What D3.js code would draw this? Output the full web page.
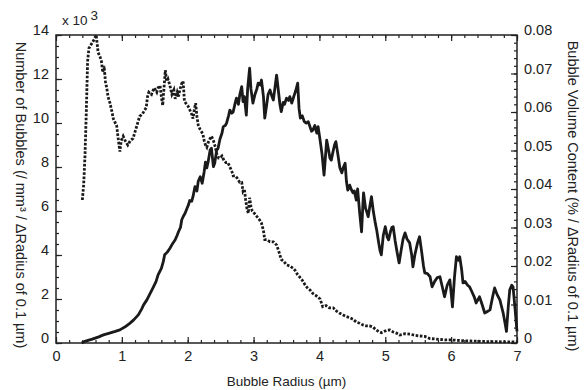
<!DOCTYPE html>
<html>
<head>
<meta charset="utf-8">
<script src="https://cdn.jsdelivr.net/npm/d3@7"></script>
<style>
  body { margin: 0; background: #fff; }
  svg text { font-family: "Liberation Sans", Arial, sans-serif; fill: #222; }
</style>
</head>
<body>
<div id="chart"></div>
<script>
// Number of bubbles (x 10^3 per mm^3 per 0.1 um), left axis.
const numberRadius = [0.40, 0.42, 0.44, 0.46, 0.48, 0.50, 0.54, 0.58, 0.61, 0.64, 0.67, 0.69, 0.71, 0.73, 0.75, 0.77, 0.79, 0.82, 0.85, 0.87,
  0.90, 0.92, 0.94, 0.97, 0.99, 1.02, 1.05, 1.09, 1.13, 1.17, 1.21, 1.25, 1.27, 1.31, 1.35, 1.37, 1.39, 1.41, 1.45, 1.49,
  1.53, 1.55, 1.58, 1.60, 1.62, 1.64, 1.66, 1.68, 1.70, 1.73, 1.76, 1.79, 1.81, 1.84, 1.86, 1.88, 1.91, 1.93, 1.95, 1.97,
  2.00, 2.03, 2.06, 2.08, 2.10, 2.12, 2.14, 2.16, 2.19, 2.21, 2.23, 2.25, 2.27, 2.29, 2.31, 2.34, 2.36, 2.39, 2.42, 2.44,
  2.47, 2.49, 2.52, 2.55, 2.58, 2.61, 2.64, 2.67, 2.69, 2.72, 2.75, 2.79, 2.82, 2.84, 2.86, 2.88, 2.90, 2.92, 2.94, 2.96,
  2.98, 3.01, 3.05, 3.09, 3.12, 3.15, 3.17, 3.20, 3.25, 3.30, 3.35, 3.38, 3.42, 3.46, 3.50, 3.55, 3.60, 3.63, 3.67, 3.70,
  3.74, 3.78, 3.82, 3.86, 3.90, 3.95, 4.01, 4.05, 4.10, 4.15, 4.21, 4.26, 4.31, 4.36, 4.41, 4.46, 4.51, 4.56, 4.61, 4.66,
  4.71, 4.76, 4.81, 4.86, 4.91, 4.94, 4.98, 5.02, 5.07, 5.12, 5.17, 5.22, 5.30, 5.38, 5.45, 5.52, 5.60, 5.68, 5.76, 5.84,
  5.92, 6.00, 6.10, 6.20, 6.30, 6.40, 6.50, 6.60, 6.70, 6.80, 6.90, 7.00];
const numberValues = [6.5, 7.2, 8.5, 10.5, 12.8, 13.4, 13.6, 13.8, 14.0, 13.2, 13.0, 12.8, 12.3, 12.6, 11.9, 11.6, 11.2, 10.9, 10.5, 10.2,
  10.0, 9.9, 9.4, 8.7, 9.2, 9.4, 9.2, 9.0, 9.2, 9.3, 9.7, 10.1, 10.3, 10.4, 10.6, 10.7, 11.2, 11.4, 11.3, 11.6,
  11.4, 11.6, 11.7, 11.2, 10.8, 11.6, 12.4, 11.9, 12.0, 11.7, 11.3, 11.5, 11.1, 11.4, 11.2, 11.5, 11.8, 11.9, 11.0, 10.9,
  10.8, 10.6, 10.4, 10.2, 10.6, 10.9, 10.3, 9.9, 9.7, 9.6, 9.5, 9.2, 9.0, 8.9, 9.1, 9.3, 9.4, 9.2, 8.9, 8.6,
  8.4, 8.4, 8.5, 8.3, 8.2, 8.2, 8.0, 7.8, 7.6, 7.6, 7.5, 7.3, 7.3, 6.9, 7.0, 6.5, 6.1, 5.9, 6.6, 6.2,
  6.0, 5.9, 5.75, 5.6, 5.45, 5.1, 4.7, 4.7, 4.6, 4.6, 4.45, 4.2, 3.8, 3.7, 3.55, 3.5, 3.4, 3.3, 3.1, 3.0,
  2.85, 2.65, 2.5, 2.4, 2.25, 2.15, 2.0, 1.65, 1.7, 1.6, 1.6, 1.45, 1.35, 1.27, 1.2, 1.15, 1.08, 0.95, 0.9, 0.82,
  0.78, 0.78, 0.73, 0.6, 0.5, 0.47, 0.52, 0.58, 0.59, 0.5, 0.45, 0.36, 0.42, 0.4, 0.35, 0.32, 0.3, 0.2, 0.18, 0.16,
  0.14, 0.14, 0.12, 0.1, 0.09, 0.08, 0.07, 0.06, 0.06, 0.05, 0.05, 0.05];

// Bubble volume content (% per 0.1 um), right axis.
const volumeRadius = [0.39, 0.45, 0.55, 0.65, 0.72, 0.80, 0.90, 0.97, 1.05, 1.12, 1.18, 1.25, 1.30, 1.33, 1.38, 1.43, 1.48, 1.52, 1.55, 1.60,
  1.63, 1.65, 1.69, 1.73, 1.77, 1.81, 1.84, 1.86, 1.89, 1.91, 1.93, 1.96, 1.99, 2.01, 2.03, 2.06, 2.08, 2.11, 2.14, 2.16,
  2.19, 2.22, 2.25, 2.27, 2.29, 2.31, 2.34, 2.36, 2.39, 2.41, 2.44, 2.46, 2.49, 2.52, 2.54, 2.57, 2.59, 2.62, 2.64, 2.67,
  2.69, 2.72, 2.74, 2.77, 2.79, 2.82, 2.84, 2.86, 2.89, 2.91, 2.94, 2.96, 2.99, 3.02, 3.05, 3.07, 3.10, 3.12, 3.15, 3.17,
  3.20, 3.22, 3.25, 3.28, 3.30, 3.33, 3.35, 3.38, 3.40, 3.42, 3.45, 3.47, 3.50, 3.53, 3.55, 3.58, 3.61, 3.64, 3.67, 3.69,
  3.71, 3.74, 3.77, 3.80, 3.83, 3.86, 3.88, 3.90, 3.93, 3.96, 3.98, 4.01, 4.04, 4.07, 4.09, 4.11, 4.14, 4.16, 4.18, 4.21,
  4.23, 4.25, 4.28, 4.31, 4.34, 4.36, 4.39, 4.41, 4.43, 4.46, 4.48, 4.51, 4.53, 4.56, 4.58, 4.61, 4.64, 4.66, 4.67, 4.70,
  4.72, 4.74, 4.77, 4.79, 4.82, 4.85, 4.87, 4.90, 4.92, 4.94, 4.97, 5.00, 5.03, 5.05, 5.08, 5.10, 5.12, 5.15, 5.18, 5.21,
  5.24, 5.27, 5.30, 5.33, 5.37, 5.40, 5.42, 5.45, 5.49, 5.52, 5.55, 5.58, 5.60, 5.64, 5.68, 5.71, 5.75, 5.79, 5.83, 5.86,
  5.90, 5.94, 5.98, 6.00, 6.02, 6.05, 6.08, 6.11, 6.13, 6.16, 6.18, 6.21, 6.25, 6.28, 6.31, 6.35, 6.38, 6.43, 6.47, 6.51,
  6.55, 6.59, 6.63, 6.66, 6.70, 6.74, 6.79, 6.82, 6.84, 6.87, 6.89, 6.92, 6.94, 6.97, 7.00];
const volumeValues = [0.0, 0.0005, 0.0010, 0.0016, 0.0021, 0.0025, 0.0030, 0.0034, 0.0042, 0.0051, 0.0060, 0.0073, 0.0088, 0.0099, 0.0112, 0.0129, 0.0146, 0.0160, 0.0177, 0.0194,
  0.0212, 0.0229, 0.0236, 0.0246, 0.0258, 0.0268, 0.0280, 0.0289, 0.0300, 0.0320, 0.0328, 0.0337, 0.0350, 0.0358, 0.0370, 0.0368, 0.0380, 0.0406, 0.0395, 0.0420,
  0.0432, 0.0415, 0.0445, 0.0470, 0.0455, 0.0470, 0.0501, 0.0506, 0.0458, 0.0467, 0.0501, 0.0505, 0.0530, 0.0545, 0.0562, 0.0565, 0.0571, 0.0590, 0.0605, 0.0597,
  0.0600, 0.0623, 0.0636, 0.0620, 0.0644, 0.0666, 0.0627, 0.0640, 0.0592, 0.0660, 0.0714, 0.0660, 0.0623, 0.0645, 0.0660, 0.0675, 0.0670, 0.0683, 0.0640, 0.0584,
  0.0620, 0.0645, 0.0657, 0.0640, 0.0631, 0.0670, 0.0696, 0.0650, 0.0620, 0.0601, 0.0625, 0.0620, 0.0636, 0.0630, 0.0640, 0.0623, 0.0640, 0.0655, 0.0675, 0.0610,
  0.0584, 0.0590, 0.0575, 0.0571, 0.0575, 0.0560, 0.0550, 0.0553, 0.0565, 0.0545, 0.0562, 0.0527, 0.0490, 0.0436, 0.0480, 0.0527, 0.0500, 0.0480, 0.0475, 0.0500,
  0.0515, 0.0523, 0.0490, 0.0455, 0.0442, 0.0455, 0.0467, 0.0420, 0.0397, 0.0410, 0.0400, 0.0390, 0.0395, 0.0371, 0.0400, 0.0340, 0.0289, 0.0360, 0.0390, 0.0350,
  0.0340, 0.0328, 0.0360, 0.0380, 0.0340, 0.0310, 0.0293, 0.0260, 0.0240, 0.0229, 0.0280, 0.0302, 0.0275, 0.0268, 0.0290, 0.0300, 0.0302, 0.0265, 0.0235, 0.0208,
  0.0240, 0.0270, 0.0286, 0.0270, 0.0260, 0.0230, 0.0198, 0.0230, 0.0260, 0.0276, 0.0240, 0.0200, 0.0182, 0.0180, 0.0172, 0.0146, 0.0160, 0.0170, 0.0172, 0.0150,
  0.0120, 0.0150, 0.0164, 0.0130, 0.0094, 0.0170, 0.0224, 0.0215, 0.0224, 0.0190, 0.0156, 0.0160, 0.0150, 0.0146, 0.0135, 0.0120, 0.0104, 0.0120, 0.0100, 0.0078,
  0.0082, 0.0086, 0.0120, 0.0143, 0.0125, 0.0112, 0.0078, 0.0050, 0.0030, 0.0100, 0.0138, 0.0150, 0.0146, 0.0090, 0.0030];

const xTicks = [0, 1, 2, 3, 4, 5, 6, 7];
const leftTicks = [0, 2, 4, 6, 8, 10, 12, 14];
const rightTicks = [0, 0.01, 0.02, 0.03, 0.04, 0.05, 0.06, 0.07, 0.08];

const width = 587, height = 390;
const margin = {top: 35, right: 70, bottom: 47, left: 56};

const svg = d3.select("#chart").append("svg")
    .attr("width", width)
    .attr("height", height);

const x = d3.scaleLinear().domain([0, 7]).range([margin.left, width - margin.right]);
const yLeft = d3.scaleLinear().domain([0, 14]).range([height - margin.bottom, margin.top]);
const yRight = d3.scaleLinear().domain([0, 0.08]).range([height - margin.bottom, margin.top]);

// Minor tick positions.
const xMinor = d3.range(0, 7.001, 0.2).map(v => +v.toFixed(1));
const leftMinor = d3.range(0, 14.001, 0.5);
const rightMinor = d3.range(0, 0.0801, 0.002).map(v => +v.toFixed(3));

function styleAxis(g) {
    g.select(".domain").remove();
    g.selectAll("line").attr("stroke", "#222").attr("stroke-width", 1.2);
    g.selectAll("text").attr("font-size", 14.5).attr("fill", "#222");
}

// Minor ticks (pointing inward).
svg.append("g").attr("transform", `translate(0,${height - margin.bottom})`)
    .call(d3.axisBottom(x).tickValues(xMinor).tickSize(-3).tickFormat("")).call(styleAxis);
svg.append("g").attr("transform", `translate(0,${margin.top})`)
    .call(d3.axisTop(x).tickValues(xMinor).tickSize(-3).tickFormat("")).call(styleAxis);
svg.append("g").attr("transform", `translate(${margin.left},0)`)
    .call(d3.axisLeft(yLeft).tickValues(leftMinor).tickSize(-3).tickFormat("")).call(styleAxis);
svg.append("g").attr("transform", `translate(${width - margin.right},0)`)
    .call(d3.axisRight(yRight).tickValues(rightMinor).tickSize(-3).tickFormat("")).call(styleAxis);

// Major ticks and labels.
svg.append("g").attr("transform", `translate(0,${height - margin.bottom})`)
    .call(d3.axisBottom(x).tickValues(xTicks).tickSize(-6).tickPadding(8).tickFormat(d3.format("d")))
    .call(styleAxis);
svg.append("g").attr("transform", `translate(0,${margin.top})`)
    .call(d3.axisTop(x).tickValues(xTicks).tickSize(-6).tickFormat(""))
    .call(styleAxis);
svg.append("g").attr("transform", `translate(${margin.left},0)`)
    .call(d3.axisLeft(yLeft).tickValues(leftTicks).tickSize(-6).tickPadding(7).tickFormat(d3.format("d")))
    .call(styleAxis)
    .selectAll("text").attr("dy", "-0.02em");
svg.append("g").attr("transform", `translate(${width - margin.right},0)`)
    .call(d3.axisRight(yRight).tickValues(rightTicks).tickSize(-6).tickPadding(7).tickFormat(d => d === 0 ? "0" : d3.format(".2f")(d)))
    .call(styleAxis)
    .selectAll("text").attr("dy", "-0.02em");

// Plot frame.
svg.append("rect")
    .attr("x", margin.left)
    .attr("y", margin.top)
    .attr("width", width - margin.left - margin.right)
    .attr("height", height - margin.top - margin.bottom)
    .attr("fill", "none")
    .attr("stroke", "#222")
    .attr("stroke-width", 1.5);

// Series.
const numberLine = d3.line()
    .x((d, i) => x(numberRadius[i]))
    .y(d => yLeft(d));
const volumeLine = d3.line()
    .x((d, i) => x(volumeRadius[i]))
    .y(d => yRight(d));

svg.append("path")
    .datum(numberValues)
    .attr("d", numberLine)
    .attr("fill", "none")
    .attr("stroke", "#1a1a1a")
    .attr("stroke-width", 2.8)
    .attr("stroke-dasharray", "2.6,1.6");

svg.append("path")
    .datum(volumeValues)
    .attr("d", volumeLine)
    .attr("fill", "none")
    .attr("stroke", "#1a1a1a")
    .attr("stroke-width", 2.8)
    .attr("stroke-linejoin", "round");

// Exponent label.
const expo = svg.append("text")
    .attr("x", 62)
    .attr("y", 25)
    .attr("font-size", 13.5);
expo.append("tspan").text("x 10");
expo.append("tspan").attr("dx", 3).attr("dy", -5).text("3");

// Axis titles.
const midY = (margin.top + height - margin.bottom) / 2;
svg.append("text")
    .attr("transform", `translate(${16},${midY + 6}) rotate(90)`)
    .attr("text-anchor", "middle")
    .attr("font-size", 14.5)
    .text("Number of Bubbles  (/ mm³ / ΔRadius of 0.1 µm)");

svg.append("text")
    .attr("transform", `translate(${568},${midY + 7}) rotate(90)`)
    .attr("text-anchor", "middle")
    .attr("font-size", 14.5)
    .text("Bubble Volume Content (% / ΔRadius of 0.1 µm)");

svg.append("text")
    .attr("x", (margin.left + width - margin.right) / 2)
    .attr("y", 386)
    .attr("text-anchor", "middle")
    .attr("font-size", 13.5)
    .text("Bubble Radius (µm)");
</script>
</body>
</html>
